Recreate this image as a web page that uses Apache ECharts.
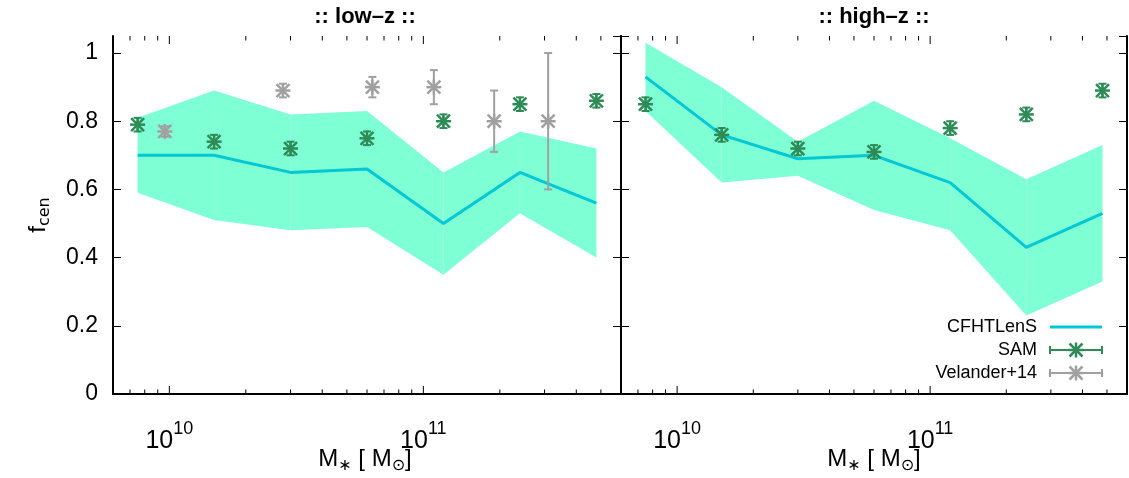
<!DOCTYPE html>
<html>
<head>
<meta charset="utf-8">
<script src="https://cdn.jsdelivr.net/npm/echarts@6/dist/echarts.min.js"></script>
<style>
  html, body { margin: 0; padding: 0; background: #fff; }
  #chart { width: 1129px; height: 478px; }
</style>
</head>
<body>
<div id="chart"></div>
<script>
// Stellar-mass bins (M_sun) shared by the CFHTLenS and SAM curves
const massBins = [7.5e9, 1.5e10, 3e10, 6e10, 1.2e11, 2.4e11, 4.8e11];

// low-z panel
const lowCfht  = [0.70, 0.70, 0.65, 0.66, 0.50, 0.65, 0.56];
const lowUpper = [0.81, 0.89, 0.82, 0.83, 0.65, 0.77, 0.72];
const lowLower = [0.59, 0.51, 0.48, 0.49, 0.35, 0.53, 0.40];
const lowSam   = [0.79, 0.74, 0.72, 0.75, 0.80, 0.85, 0.86];

// high-z panel
const highCfht  = [0.93, 0.76, 0.69, 0.70, 0.62, 0.43, 0.53];
const highUpper = [1.03, 0.90, 0.74, 0.86, 0.75, 0.63, 0.73];
const highLower = [0.83, 0.62, 0.64, 0.54, 0.48, 0.23, 0.33];
const highSam   = [0.85, 0.76, 0.72, 0.71, 0.78, 0.82, 0.89];

const samErr = [0.02, 0.02, 0.02, 0.02, 0.02, 0.02, 0.02];

// Velander+14 (low-z only)
const velanderMass = [9.6e9, 2.8e10, 6.3e10, 1.1e11, 1.9e11, 3.1e11];
const velanderFcen = [0.77, 0.89, 0.90, 0.90, 0.80, 0.80];
const velanderErr  = [0.015, 0.02, 0.03, 0.05, 0.09, 0.20];

// x-axis tick marks (log axis, decades + 2..9 sub-ticks)
const xTickValues = [7e9, 8e9, 9e9, 1e10, 2e10, 3e10, 4e10, 5e10, 6e10, 7e10, 8e10, 9e10,
                     1e11, 2e11, 3e11, 4e11, 5e11];
const xMin = 6e9, xMax = 6e11;
const yTicks = [0, 0.2, 0.4, 0.6, 0.8, 1];

const panelTitles = [':: low\u2013z ::', ':: high\u2013z ::'];
const legendNames = ['CFHTLenS', 'SAM', 'Velander+14'];

const C_BAND = '#7fffd4';
const C_LINE = '#00c8d4';
const C_SAM  = '#2e8b57';
const C_VEL  = '#a0a0a0';
const FONT = '"Liberation Sans", Arial, Helvetica, sans-serif';

const isDecade = v => Math.abs(Math.log10(v) - Math.round(Math.log10(v))) < 1e-9;

function zip(xs, ys) { return xs.map((x, i) => [x, ys[i]]); }

// asterisk marker (+ and x superimposed) with an error bar
function asteriskItem(api, color) {
  const x = api.value(0), y = api.value(1), e = api.value(2);
  const p = api.coord([x, y]);
  const t = api.coord([x, y + e]);
  const b = api.coord([x, y - e]);
  const r = 7.5, k = 6.5, cap = 4;
  const seg = (x1, y1, x2, y2, w) => ({ type: 'line', shape: { x1, y1, x2, y2 }, style: { stroke: color, lineWidth: w } });
  return {
    type: 'group',
    children: [
      seg(p[0], b[1], p[0], t[1], 2),
      seg(p[0] - cap, t[1], p[0] + cap, t[1], 2),
      seg(p[0] - cap, b[1], p[0] + cap, b[1], 2),
      seg(p[0] - r, p[1], p[0] + r, p[1], 2.5),
      seg(p[0], p[1] - r, p[0], p[1] + r, 2.5),
      seg(p[0] - k, p[1] - k, p[0] + k, p[1] + k, 2.5),
      seg(p[0] - k, p[1] + k, p[0] + k, p[1] - k, 2.5)
    ]
  };
}

// filled band between lower and upper, drawn segment by segment
function bandSeries(xi, yi, lower, upper) {
  return {
    type: 'custom', xAxisIndex: xi, yAxisIndex: yi, z: 1, silent: true, clip: true,
    data: massBins.slice(0, -1).map((m, i) => [m, lower[i], upper[i], i]),
    encode: { x: 0, y: [1, 2] },
    renderItem: (params, api) => {
      const i = api.value(3);
      const pts = [
        api.coord([massBins[i], lower[i]]),
        api.coord([massBins[i + 1], lower[i + 1]]),
        api.coord([massBins[i + 1], upper[i + 1]]),
        api.coord([massBins[i], upper[i]])
      ];
      return { type: 'polygon', shape: { points: pts }, style: { fill: C_BAND } };
    }
  };
}

function tickSeries(xi, yi) {
  return {
    type: 'custom', xAxisIndex: xi, yAxisIndex: yi, z: 10, silent: true, clip: false,
    data: xTickValues.map(v => [v, 0]),
    encode: { x: 0, y: 1 },
    renderItem: (params, api) => {
      const v = api.value(0);
      const x = api.coord([v, 0])[0];
      const cs = params.coordSys;
      const len = isDecade(v) ? 8 : 4.5;
      const yb = cs.y + cs.height, yt = cs.y;
      return {
        type: 'group',
        children: [
          { type: 'line', shape: { x1: x, y1: yb, x2: x, y2: yb - len }, style: { stroke: '#000', lineWidth: 1 } },
          { type: 'line', shape: { x1: x, y1: yt, x2: x, y2: yt + len }, style: { stroke: '#000', lineWidth: 1 } }
        ]
      };
    }
  };
}

function markerSeries(xi, yi, xs, ys, errs, color) {
  return {
    type: 'custom', xAxisIndex: xi, yAxisIndex: yi, z: 6, silent: true, clip: false,
    data: xs.map((x, i) => [x, ys[i], errs[i]]),
    encode: { x: 0, y: 1 },
    renderItem: (params, api) => asteriskItem(api, color)
  };
}

function lineSeries(xi, yi, ys) {
  return {
    type: 'line', xAxisIndex: xi, yAxisIndex: yi, z: 4, silent: true,
    data: zip(massBins, ys), symbol: 'none',
    lineStyle: { color: C_LINE, width: 3 }
  };
}

const axisLine = { show: true, lineStyle: { color: '#000', width: 2 } };

function xAxes(gi) {
  return [
    {
      type: 'log', logBase: 10, gridIndex: gi, min: xMin, max: xMax, position: 'bottom',
      axisLine, axisTick: { show: false }, splitLine: { show: false },
      axisLabel: {
        margin: 23, color: '#000', fontFamily: FONT,
        showMinLabel: false, showMaxLabel: false,
        formatter: v => isDecade(v) ? '{b|10}{s|' + Math.round(Math.log10(v)) + '}' : '',
        rich: {
          b: { fontSize: 25, fontFamily: FONT, color: '#000', padding: [12, 0, 0, 0] },
          s: { fontSize: 18, fontFamily: FONT, color: '#000', padding: [0, 0, 12, 0] }
        }
      }
    },
    {
      type: 'log', logBase: 10, gridIndex: gi, min: xMin, max: xMax, position: 'top',
      axisLine, axisTick: { show: false }, axisLabel: { show: false }, splitLine: { show: false }
    }
  ];
}

function yAxes(gi, labels) {
  const base = {
    type: 'value', gridIndex: gi, min: 0, max: 1.05, interval: 0.2,
    axisLine, splitLine: { show: false },
    axisTick: { show: true, inside: true, length: 8, lineStyle: { color: '#000', width: 1 } }
  };
  return [
    Object.assign({}, base, {
      position: 'left',
      axisLabel: {
        show: labels, margin: 15, color: '#000', fontSize: 23, fontFamily: FONT,
        showMaxLabel: false,
        formatter: v => yTicks.some(t => Math.abs(t - v) < 1e-9) ? String(+v.toFixed(1)) : ''
      }
    }),
    Object.assign({}, base, { position: 'right', axisLabel: { show: false } })
  ];
}

// legend entries drawn as graphic items
function legendRow(y, name, color, kind) {
  const x1 = 1050, x2 = 1102, xm = 1076;
  const items = [{
    type: 'text', x: 1037, y, z: 20,
    style: { text: name, fontSize: 18, fontFamily: FONT, fill: '#000', align: 'right', verticalAlign: 'middle' }
  }];
  const ln = (a, b, c, d, w) => ({ type: 'line', z: 20, shape: { x1: a, y1: b, x2: c, y2: d }, style: { stroke: color, lineWidth: w } });
  if (kind === 'line') {
    items.push(ln(x1, y, x2, y, 3));
  } else {
    const r = 7.5, k = 6.5;
    items.push(ln(x1, y, x2, y, 2), ln(x1, y - 4, x1, y + 4, 2), ln(x2, y - 4, x2, y + 4, 2),
      ln(xm - r, y, xm + r, y, 2.5), ln(xm, y - r, xm, y + r, 2.5),
      ln(xm - k, y - k, xm + k, y + k, 2.5), ln(xm - k, y + k, xm + k, y - k, 2.5));
  }
  return items;
}

const xLabelRich = {
  n: { fontSize: 24, fontFamily: FONT, color: '#000' },
  sub: { fontSize: 16, fontFamily: '"DejaVu Sans", ' + FONT, color: '#000', padding: [13, 0, 0, 0] }
};
const xLabelText = '{n|M}{sub|\u2217}{n| [ M}{sub|\u2299}{n|]}';

const chart = echarts.init(document.getElementById('chart'), null, { renderer: 'canvas' });
chart.setOption({
  animation: false,
  backgroundColor: '#fff',
  grid: [
    { left: 113, right: 508, top: 36, bottom: 84 },
    { left: 621, right: 2, top: 36, bottom: 84 }
  ],
  xAxis: [...xAxes(0), ...xAxes(1)],
  yAxis: [...yAxes(0, true), ...yAxes(1, false)],
  series: [
    bandSeries(0, 0, lowLower, lowUpper),
    lineSeries(0, 0, lowCfht),
    markerSeries(0, 0, massBins, lowSam, samErr, C_SAM),
    markerSeries(0, 0, velanderMass, velanderFcen, velanderErr, C_VEL),
    tickSeries(0, 0),
    bandSeries(2, 2, highLower, highUpper),
    lineSeries(2, 2, highCfht),
    markerSeries(2, 2, massBins, highSam, samErr, C_SAM),
    tickSeries(2, 2)
  ],
  graphic: [
    { type: 'text', x: 365, y: 17, style: { text: panelTitles[0], fontSize: 22, fontWeight: 'bold', fontFamily: FONT, fill: '#000', align: 'center', verticalAlign: 'middle' } },
    { type: 'text', x: 874, y: 17, style: { text: panelTitles[1], fontSize: 22, fontWeight: 'bold', fontFamily: FONT, fill: '#000', align: 'center', verticalAlign: 'middle' } },
    { type: 'text', x: 365, y: 459, style: { text: xLabelText, rich: xLabelRich, align: 'center', verticalAlign: 'middle' } },
    { type: 'text', x: 874, y: 459, style: { text: xLabelText, rich: xLabelRich, align: 'center', verticalAlign: 'middle' } },
    { type: 'text', x: 38, y: 215, rotation: Math.PI / 2,
      style: { text: '{n|f}{sub|cen}', rich: xLabelRich, align: 'center', verticalAlign: 'middle' } },
    ...legendRow(327, legendNames[0], C_LINE, 'line'),
    ...legendRow(350, legendNames[1], C_SAM, 'err'),
    ...legendRow(373, legendNames[2], C_VEL, 'err')
  ]
});
</script>
</body>
</html>
